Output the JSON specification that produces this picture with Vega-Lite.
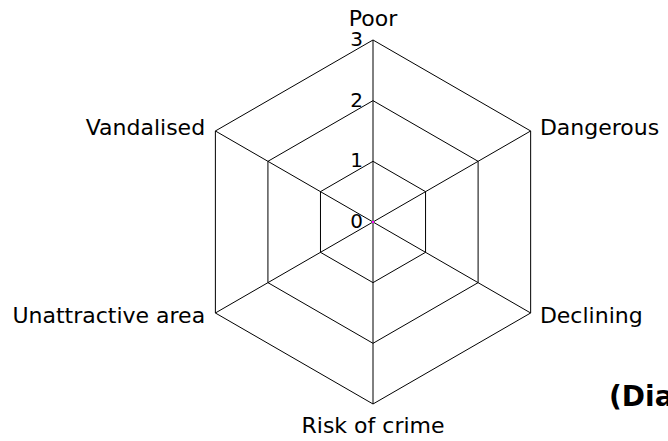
{
  "$schema": "https://vega.github.io/schema/vega-lite/v6.json",
  "width": 668,
  "height": 441,
  "autosize": {"type": "none"},
  "padding": 0,
  "background": "white",
  "config": {"view": {"stroke": null}, "font": "DejaVu Sans"},
  "datasets": {
    "grid": [
      {"level": 1, "i": 0}, {"level": 1, "i": 1}, {"level": 1, "i": 2}, {"level": 1, "i": 3}, {"level": 1, "i": 4}, {"level": 1, "i": 5}, {"level": 1, "i": 6},
      {"level": 2, "i": 0}, {"level": 2, "i": 1}, {"level": 2, "i": 2}, {"level": 2, "i": 3}, {"level": 2, "i": 4}, {"level": 2, "i": 5}, {"level": 2, "i": 6},
      {"level": 3, "i": 0}, {"level": 3, "i": 1}, {"level": 3, "i": 2}, {"level": 3, "i": 3}, {"level": 3, "i": 4}, {"level": 3, "i": 5}, {"level": 3, "i": 6}
    ],
    "spokes": [
      {"i": 0, "r": 0}, {"i": 0, "r": 3},
      {"i": 1, "r": 0}, {"i": 1, "r": 3},
      {"i": 2, "r": 0}, {"i": 2, "r": 3},
      {"i": 3, "r": 0}, {"i": 3, "r": 3},
      {"i": 4, "r": 0}, {"i": 4, "r": 3},
      {"i": 5, "r": 0}, {"i": 5, "r": 3}
    ],
    "axes": [
      {"name": "Poor", "i": 0},
      {"name": "Dangerous", "i": 1},
      {"name": "Declining", "i": 2},
      {"name": "Risk of crime", "i": 3},
      {"name": "Unattractive area", "i": 4},
      {"name": "Vandalised", "i": 5}
    ],
    "ticks": [{"v": 0}, {"v": 1}, {"v": 2}, {"v": 3}],
    "series": [
      {"name": "Poor", "i": 0, "value": 0},
      {"name": "Dangerous", "i": 1, "value": 0},
      {"name": "Declining", "i": 2, "value": 0},
      {"name": "Risk of crime", "i": 3, "value": 0},
      {"name": "Unattractive area", "i": 4, "value": 0},
      {"name": "Vandalised", "i": 5, "value": 0},
      {"name": "Poor", "i": 6, "value": 0}
    ],
    "caption": [{"text": "(Diagram 1)", "cx": 3.89, "cy": -3.03}]
  },
  "layer": [
    {
      "data": {"name": "grid"},
      "transform": [
        {"calculate": "datum.level * sin(datum.i * PI / 3)", "as": "x"},
        {"calculate": "datum.level * cos(datum.i * PI / 3)", "as": "y"}
      ],
      "mark": {"type": "line", "stroke": "#000000", "strokeWidth": 1},
      "encoding": {
        "x": {"field": "x", "type": "quantitative", "scale": {"domain": [-6.148, 4.862], "nice": false, "zero": false}, "axis": null},
        "y": {"field": "y", "type": "quantitative", "scale": {"domain": [-3.610, 3.659], "nice": false, "zero": false}, "axis": null},
        "detail": {"field": "level"},
        "order": {"field": "i"}
      }
    },
    {
      "data": {"name": "spokes"},
      "transform": [
        {"calculate": "datum.r * sin(datum.i * PI / 3)", "as": "x"},
        {"calculate": "datum.r * cos(datum.i * PI / 3)", "as": "y"}
      ],
      "mark": {"type": "line", "stroke": "#000000", "strokeWidth": 1},
      "encoding": {
        "x": {"field": "x", "type": "quantitative"},
        "y": {"field": "y", "type": "quantitative"},
        "detail": {"field": "i"},
        "order": {"field": "r"}
      }
    },
    {
      "data": {"name": "series"},
      "transform": [
        {"calculate": "datum.value * sin(datum.i * PI / 3)", "as": "x"},
        {"calculate": "datum.value * cos(datum.i * PI / 3)", "as": "y"}
      ],
      "mark": {"type": "line", "stroke": "#ff00ff", "strokeWidth": 2, "strokeCap": "square"},
      "encoding": {
        "x": {"field": "x", "type": "quantitative"},
        "y": {"field": "y", "type": "quantitative"},
        "order": {"field": "i"}
      }
    },
    {
      "data": {"name": "ticks"},
      "transform": [{"calculate": "0", "as": "x"}],
      "mark": {"type": "text", "align": "right", "baseline": "middle", "dx": -10, "fontSize": 20, "color": "#000000"},
      "encoding": {
        "x": {"field": "x", "type": "quantitative"},
        "y": {"field": "v", "type": "quantitative"},
        "text": {"field": "v", "type": "nominal"}
      }
    },
    {
      "data": {"name": "axes"},
      "transform": [
        {"filter": "datum.i == 0"},
        {"calculate": "3.1 * sin(datum.i * PI / 3)", "as": "x"},
        {"calculate": "3.1 * cos(datum.i * PI / 3)", "as": "y"}
      ],
      "mark": {"type": "text", "align": "center", "baseline": "alphabetic", "dy": -8, "fontSize": 22, "color": "#000000"},
      "encoding": {
        "x": {"field": "x", "type": "quantitative"},
        "y": {"field": "y", "type": "quantitative"},
        "text": {"field": "name"}
      }
    },
    {
      "data": {"name": "axes"},
      "transform": [
        {"filter": "datum.i == 3"},
        {"calculate": "3.1 * sin(datum.i * PI / 3)", "as": "x"},
        {"calculate": "3.1 * cos(datum.i * PI / 3)", "as": "y"}
      ],
      "mark": {"type": "text", "align": "center", "baseline": "alphabetic", "dy": 23, "fontSize": 22, "color": "#000000"},
      "encoding": {
        "x": {"field": "x", "type": "quantitative"},
        "y": {"field": "y", "type": "quantitative"},
        "text": {"field": "name"}
      }
    },
    {
      "data": {"name": "axes"},
      "transform": [
        {"filter": "datum.i == 1 || datum.i == 2"},
        {"calculate": "3.1 * sin(datum.i * PI / 3)", "as": "x"},
        {"calculate": "3.1 * cos(datum.i * PI / 3)", "as": "y"}
      ],
      "mark": {"type": "text", "align": "left", "baseline": "alphabetic", "dx": 4, "dy": 7, "fontSize": 22, "color": "#000000"},
      "encoding": {
        "x": {"field": "x", "type": "quantitative"},
        "y": {"field": "y", "type": "quantitative"},
        "text": {"field": "name"}
      }
    },
    {
      "data": {"name": "axes"},
      "transform": [
        {"filter": "datum.i == 4 || datum.i == 5"},
        {"calculate": "3.1 * sin(datum.i * PI / 3)", "as": "x"},
        {"calculate": "3.1 * cos(datum.i * PI / 3)", "as": "y"}
      ],
      "mark": {"type": "text", "align": "right", "baseline": "alphabetic", "dx": -5, "dy": 7, "fontSize": 22, "color": "#000000"},
      "encoding": {
        "x": {"field": "x", "type": "quantitative"},
        "y": {"field": "y", "type": "quantitative"},
        "text": {"field": "name"}
      }
    },
    {
      "data": {"name": "caption"},
      "mark": {"type": "text", "align": "left", "baseline": "alphabetic", "fontSize": 28, "fontWeight": "bold", "color": "#000000"},
      "encoding": {
        "x": {"field": "cx", "type": "quantitative"},
        "y": {"field": "cy", "type": "quantitative"},
        "text": {"field": "text"}
      }
    }
  ]
}
